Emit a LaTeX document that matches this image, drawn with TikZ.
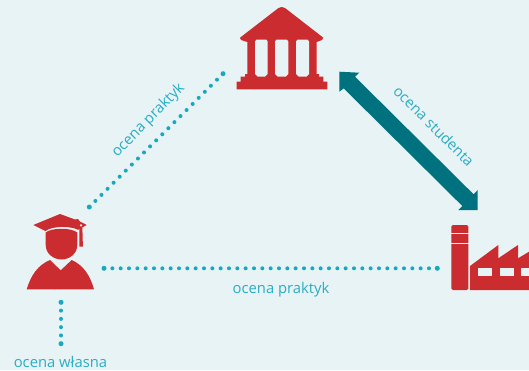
\documentclass[tikz,border=0pt]{standalone}
\usepackage{fontspec}
\setmainfont{Open Sans}
\definecolor{bgc}{HTML}{E8F3F5}
\definecolor{redc}{HTML}{CB2C30}
\definecolor{tealc}{HTML}{00727F}
\definecolor{cyanc}{HTML}{15A9C2}
\definecolor{labc}{HTML}{2AADC5}
\tikzset{
  dotline/.style={cyanc,line width=4pt,line cap=round},
  enddot/.style={fill=cyanc,draw=none},
  lab/.style={labc,font=\fontsize{14.8}{16}\selectfont,inner sep=0pt},
  redfill/.style={fill=redc,draw=none},
  cutout/.style={fill=bgc,draw=none}
}
\begin{document}
\begin{tikzpicture}[x=1pt,y=-1pt]
\useasboundingbox (0,0) rectangle (529,370);
\fill[bgc] (0,0) rectangle (529,370);
% coordinates for connectors
\coordinate (dA1) at (89.3,207);
\coordinate (dA2) at (223,73.7);
\coordinate (dB1) at (104,268.3);
\coordinate (dB2) at (437.3,268.3);
\coordinate (dC1) at (61,302.3);
\coordinate (dC2) at (61,343.7);
% building
\fill[redfill] (281.7,7) -- (285,8) -- (323.3,37.7) -- (322,40) -- (316.7,42) -- (316.7,74)
  -- (319,74) -- (319,76.7) -- (323.3,76.7) -- (323.3,81.7) -- (327.3,81.7) -- (327.3,89.3)
  -- (236.7,89.3) -- (236.7,81.7) -- (240.7,81.7) -- (240.7,76.7) -- (245,76.7) -- (245,74)
  -- (247.3,74) -- (247.3,42) -- (241,40) -- (240,37.7) -- (278.5,8) -- cycle;
\foreach \a/\b in {255/267.7,275/288.3,296/309}
  \fill[cutout] (\a+1.5,39.5) -- (\b-1.5,39.5) -- (\b,41.5) -- (\b,74) -- (\b-2.5,76.5) -- (\a+2.5,76.5) -- (\a,74) -- (\a,41.5) -- cycle;
% person
\fill[redfill] (26.7,289.3) .. controls (31,275) and (38,265) .. (50,260) -- (60.7,270.3) -- (71.7,260)
  .. controls (83,265) and (90,275) .. (94,289.3) -- cycle;
\fill[redfill] (45.7,232.5) .. controls (52,227.5) and (71,227.5) .. (77.3,232.5) -- (77.3,245)
  .. controls (77.3,254) and (69,259.5) .. (61.5,259.5) .. controls (54,259.5) and (45.7,254) .. (45.7,245) -- cycle;
\fill[redfill] (33.3,225) -- (60,214) -- (75,219.5) -- (78,219) -- (80,221.5) -- (86.7,225) -- (78,229.8) .. controls (71,225.8) and (52,225.8) .. (45.5,231) -- cycle;
\fill[redfill] (79.3,226) -- (82.3,226) -- (82.9,246.7) -- (79.3,246.7) -- cycle;
\fill[cutout] (81,225.3) circle (1.2);
% factory
\fill[redfill,rounded corners=1.5pt] (451.3,225) rectangle (468.3,290);
\fill[cutout] (451,232.6) rectangle (469,233.9);
\fill[cutout] (451,242.7) rectangle (469,244);
\fill[redfill] (470,266) -- (498.3,245) -- (498.3,258.3) -- (518,245) -- (518,258.3) -- (529,251.7) -- (529,290) -- (470,290) -- cycle;
\fill[cutout] (478.3,268.3) rectangle (492.3,276);
\fill[cutout] (499.7,268.3) rectangle (513.7,276);
\fill[cutout] (520.7,268.3) rectangle (529,276);
% teal double arrow
\coordinate (aTip) at (339.3,71.7);
\coordinate (bTip) at (477.7,210);
\fill[tealc] (aTip) -- (359.3,72.7) -- (355,76.7) -- (473.6,194.3) -- (477.7,190) -- (bTip) -- (458.3,210) -- (462.3,206) -- (343.7,88.4) -- (339.3,91.7) -- cycle;
% dotted connectors
\draw[dotline,dash pattern=on 0pt off 8.585pt] (dA1) -- (dA2);
\draw[dotline,dash pattern=on 0pt off 8.333pt] (dB1) -- (dB2);
\draw[dotline,dash pattern=on 0pt off 8.28pt] (dC1) -- (dC2);
\foreach \e in {dA1,dA2,dB1,dB2,dC1,dC2} \fill[enddot] (\e) circle (2.5);
% labels
\node[lab,rotate=45.5] (l1) at (148.5,120.5) {ocena praktyk};
\node[lab,rotate=-45] (l2) at (434,126) {ocena studenta};
\node[lab] (l3) at (281,290) {ocena praktyk};
\node[lab] (l4) at (60.5,362) {ocena własna};
\end{tikzpicture}
\end{document}
